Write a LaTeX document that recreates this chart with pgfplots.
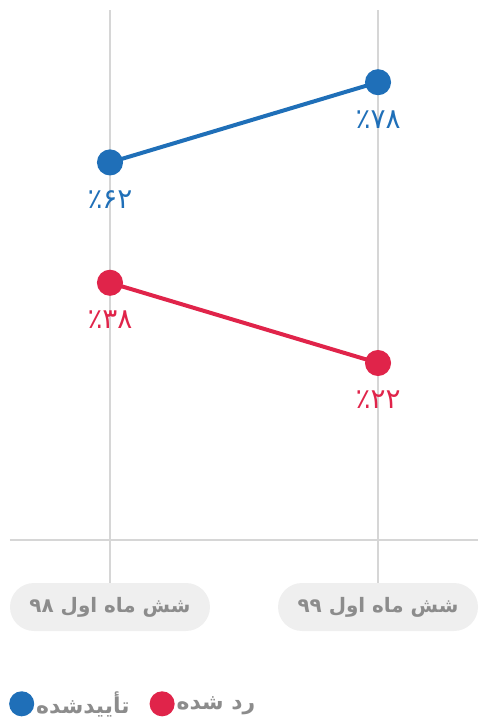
\documentclass[border=0pt]{standalone}
\usepackage{fontspec}
\usepackage{pgfplots}
\pgfplotsset{compat=1.18}
\TeXXeTstate=1
\setmainfont{DejaVu Sans}
\newfontfamily\arabicfont[Script=Arabic]{DejaVu Sans}
\definecolor{cblue}{HTML}{1F6FB8}
\definecolor{cred}{HTML}{E0244A}
\definecolor{cgrid}{HTML}{D6D6D6}
\definecolor{ctext}{HTML}{8C8C8C}
\definecolor{cbox}{HTML}{EFEFEF}
\begin{document}
\begin{tikzpicture}
\begin{axis}[name=ax, scale only axis, width=468bp, height=530bp,
  xmin=-0.373, xmax=1.373, ymin=-13.3, ymax=92.4,
  axis line style={draw=none},
  ytick=\empty,
  xtick={0,1},
  xticklabels={{\beginR شش ماه اول ۹۸\endR},{\beginR شش ماه اول ۹۹\endR}},
  xmajorgrids, grid style={cgrid, line width=2bp},
  xtick pos=lower, tick align=outside, major tick length=43bp,
  tick style={cgrid, line width=2bp},
  xticklabel style={anchor=center, yshift=-24bp, fill=cbox, text=ctext,
    rounded corners=24bp, minimum width=200bp, minimum height=48bp,
    font=\arabicfont\bfseries\fontsize{20}{24}\selectfont},
  clip=false,
  point meta=explicit symbolic,
  nodes near coords,
  every node near coord/.append style={anchor=center, yshift=-37bp,
    font=\arabicfont\fontsize{28}{32}\selectfont},
  legend columns=2,
  legend style={at={(rel axis cs:0,0)}, anchor=north west, yshift=-148bp, xshift=-4bp,
    draw=none, fill=none, font=\arabicfont\bfseries\fontsize{22}{26}\selectfont, text=ctext,
    /tikz/every even column/.append style={column sep=18bp}},
  legend image code/.code={\fill[#1] (0.3cm,0bp) circle (10.5bp);},
]
\addplot[cblue, line width=4bp, mark=*, mark size=11bp, every node near coord/.append style={text=cblue}]
  coordinates {(0,62) [٪۶۲] (1,78) [٪۷۸]};
\addlegendentry{\beginR تأییدشده\endR}
\addplot[cred, line width=4bp, mark=*, mark size=11bp, every node near coord/.append style={text=cred}]
  coordinates {(0,38) [٪۳۸] (1,22) [٪۲۲]};
\addlegendentry{\beginR رد شده\endR}
\draw[cgrid, line width=2bp] (rel axis cs:0,0) -- (rel axis cs:1,0);
\end{axis}
\path ([xshift=-10bp,yshift=10bp]ax.north west) rectangle ++(478bp,-720bp);
\end{tikzpicture}
\end{document}
